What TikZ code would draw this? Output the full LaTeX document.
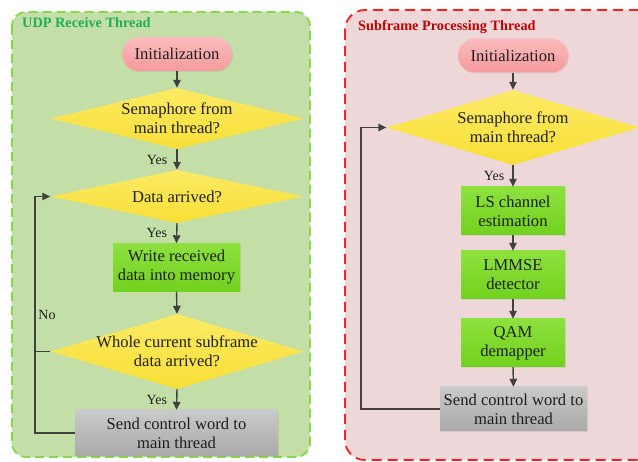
\documentclass[tikz,border=0pt]{standalone}
\usepackage{fontspec}
\setmainfont{Liberation Serif}
\usetikzlibrary{shapes.geometric,arrows.meta,shadows}
\definecolor{lpanel}{HTML}{C3DEA7}
\definecolor{lborder}{HTML}{86D84A}
\definecolor{rpanel}{HTML}{EDD7D8}
\definecolor{rborder}{HTML}{FF1F1F}
\definecolor{ltitle}{HTML}{1FAF50}
\definecolor{rtitle}{HTML}{C00000}
\definecolor{pinktop}{HTML}{FBBCBE}
\definecolor{pinkbot}{HTML}{F59A9C}
\definecolor{yeltop}{HTML}{FCEA64}
\definecolor{yelbot}{HTML}{F8DF36}
\definecolor{grntop}{HTML}{8DE13E}
\definecolor{grnbot}{HTML}{72D11E}
\definecolor{gratop}{HTML}{CACACA}
\definecolor{grabot}{HTML}{A9A9A9}
\definecolor{arrcol}{HTML}{404040}
\tikzset{
  body/.style={font=\fontsize{16.6}{19}\selectfont, text=black!88, align=center, inner sep=0pt},
  initbox/.style={body, rectangle, rounded corners=17pt, minimum width=110pt, minimum height=34pt,
    top color=pinktop, bottom color=pinkbot, drop shadow={shadow xshift=1pt, shadow yshift=-1pt, opacity=0.15}},
  dia/.style={diamond, inner sep=0pt, minimum width=253pt, top color=yeltop, bottom color=yelbot},
  diatext/.style={body},
  procbox/.style={body, rectangle, top color=grntop, bottom color=grnbot,
    drop shadow={shadow xshift=1pt, shadow yshift=-1pt, opacity=0.15}},
  graybox/.style={body, rectangle, top color=gratop, bottom color=grabot,
    drop shadow={shadow xshift=1pt, shadow yshift=-1pt, opacity=0.15}},
  arr/.style={draw=arrcol, line width=1.4pt, -{Triangle[length=8pt,width=7.5pt]}},
  link/.style={draw=arrcol, line width=1.4pt},
  yeslab/.style={font=\fontsize{14}{16}\selectfont, text=black!88, inner sep=2pt},
  ttl/.style={font=\fontsize{14.3}{16}\selectfont\bfseries, anchor=west, inner sep=0pt}
}
\begin{document}
\begin{tikzpicture}[x=1pt,y=-1pt]
\useasboundingbox (0,0) rectangle (638,462);
% panels
\draw[fill=lpanel, draw=lborder, line width=1.8pt, dash pattern=on 9pt off 5pt, rounded corners=14pt]
  (12,12) rectangle (310,457);
\draw[fill=rpanel, draw=rborder, line width=1.8pt, dash pattern=on 10pt off 6pt, rounded corners=20pt]
  (345,10) rectangle (665,460);
\node[ttl, text=ltitle] (t1) at (22,23) {UDP Receive Thread};
\node[ttl, text=rtitle] (t2) at (358,27) {Subframe Processing Thread};

% left column
\node[initbox] (i1) at (177,54) {Initialization};
\node[dia, minimum height=61pt] (d1) at (177,118.5) {};
\node[diatext] at (d1) {Semaphore from\\main thread?};
\node[dia, minimum height=53pt] (d2) at (177,196.5) {};
\node[diatext] at (d2) {Data arrived?};
\node[procbox, minimum width=127pt, minimum height=48pt] (b1) at (176.5,267.5) {Write received\\data into memory};
\node[dia, minimum height=75pt] (d3) at (177,351.5) {};
\node[diatext] at (d3) {Whole current subframe\\data arrived?};
\node[graybox, minimum width=203pt, minimum height=46pt] (g1) at (176.5,433) {Send control word to\\main thread};

\draw[arr] (i1.south) -- (d1.north);
\draw[arr] (d1.south) -- (d2.north) node[midway, left=7pt, yeslab] {Yes};
\draw[arr] (d2.south) -- (b1.north) node[midway, left=7pt, yeslab] {Yes};
\draw[arr] (b1.south) -- (d3.north);
\draw[arr] (d3.south) -- (g1.north) node[midway, left=7pt, yeslab] {Yes};
\draw[arr] (g1.west) -- ++(-40,0) coordinate (c1) |- (d2.west);
\draw[link] (d3.west) -- (d3.west -| c1);
\node[yeslab] (no) at (47,315) {No};

% right column
\node[initbox] (i2) at (513,55.5) {Initialization};
\node[dia, minimum height=75pt] (dr) at (513,127.5) {};
\node[diatext] at (dr) {Semaphore from\\main thread?};
\node[procbox, minimum width=104pt, minimum height=48pt] (ls) at (513,211) {LS channel\\estimation};
\node[procbox, minimum width=104pt, minimum height=48pt] (lm) at (513,275) {LMMSE\\detector};
\node[procbox, minimum width=104pt, minimum height=48pt] (qa) at (513,343) {QAM\\demapper};
\node[graybox, minimum width=147pt, minimum height=44pt] (g2) at (513.5,409) {Send control word to\\main thread};

\draw[arr] (i2.south) -- (dr.north);
\draw[arr] (dr.south) -- (ls.north) node[midway, left=6pt, yeslab] {Yes};
\draw[arr] (ls.south) -- (lm.north);
\draw[arr] (lm.south) -- (qa.north);
\draw[arr] (qa.south) -- (g2.north);
\draw[arr] (g2.west) -- ++(-79,0) |- (dr.west);
\end{tikzpicture}
\end{document}
